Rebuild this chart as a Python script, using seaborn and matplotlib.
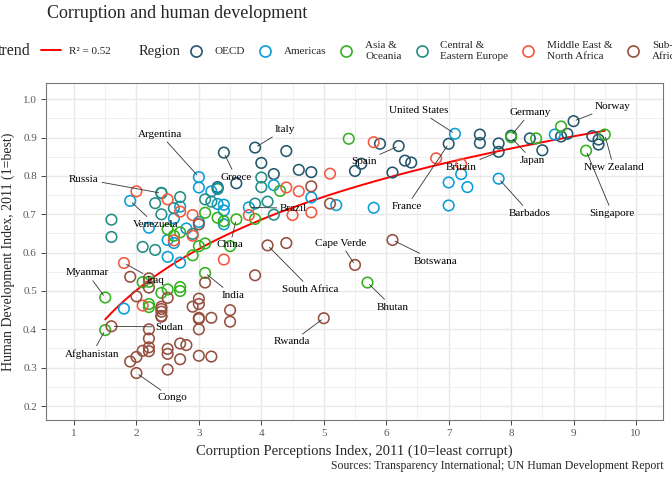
import numpy as np
import pandas as pd
import matplotlib
matplotlib.use('Agg')
import matplotlib.pyplot as plt
import seaborn as sns
from matplotlib.lines import Line2D
from matplotlib.ticker import MultipleLocator

# ==============================================================================
# DATA: CPI 2011 and HDI 2011 per country, grouped by region
# ==============================================================================
oecd_country = ['Austria', 'Belgium', 'Britain', 'Bulgaria', 'Cyprus', 'Czech Republic',
                'Denmark', 'Estonia', 'Finland', 'France', 'Germany', 'Greece', 'Hungary',
                'Iceland', 'Ireland', 'Italy', 'Latvia', 'Lithuania', 'Luxembourg', 'Malta',
                'Netherlands', 'Norway', 'Poland', 'Portugal', 'Romania', 'Slovakia',
                'Slovenia', 'Spain', 'Sweden', 'Switzerland']
oecd_cpi = [7.8, 7.5, 7.8, 3.3, 6.3, 4.4, 9.4, 6.4, 9.4, 7.0, 8.0, 3.4, 4.6, 8.3, 7.5,
            3.9, 4.2, 4.8, 8.5, 5.6, 8.9, 9.0, 5.5, 6.1, 3.6, 4.0, 5.9, 6.2, 9.3, 8.8]
oecd_hdi = [0.885, 0.886, 0.863, 0.771, 0.840, 0.865, 0.895, 0.835, 0.882, 0.884, 0.905,
            0.861, 0.816, 0.898, 0.908, 0.874, 0.805, 0.810, 0.867, 0.832, 0.910, 0.943,
            0.813, 0.809, 0.781, 0.834, 0.884, 0.878, 0.904, 0.903]

amer_country = ['Argentina', 'Bahamas', 'Barbados', 'Bolivia', 'Brazil', 'Canada', 'Chile',
                'Colombia', 'Costa Rica', 'Cuba', 'Dominica', 'Dominican Republic', 'Ecuador',
                'El Salvador', 'Guatemala', 'Guyana', 'Haiti', 'Honduras', 'Jamaica', 'Mexico',
                'Nicaragua', 'Panama', 'Paraguay', 'Peru', 'St Lucia', 'St Vincent',
                'Suriname', 'Trinidad and Tobago', 'United States', 'Uruguay', 'Venezuela']
amer_cpi = [3.0, 7.3, 7.8, 2.8, 3.8, 8.7, 7.2, 3.4, 4.8, 4.2, 5.2, 2.6, 2.7, 3.4, 2.7, 2.5,
            1.8, 2.6, 3.3, 3.0, 2.5, 3.3, 2.2, 3.4, 7.0, 5.8, 3.0, 3.2, 7.1, 7.0, 1.9]
amer_hdi = [0.797, 0.771, 0.793, 0.663, 0.718, 0.908, 0.805, 0.710, 0.744, 0.776, 0.724,
            0.689, 0.720, 0.674, 0.574, 0.633, 0.454, 0.625, 0.727, 0.770, 0.589, 0.768,
            0.665, 0.725, 0.723, 0.717, 0.680, 0.760, 0.910, 0.783, 0.735]

asia_country = ['Afghanistan', 'Australia', 'Bangladesh', 'Bhutan', 'Cambodia', 'China',
                'Hong Kong', 'India', 'Indonesia', 'Japan', 'Kiribati', 'South Korea', 'Laos',
                'Malaysia', 'Maldives', 'Mongolia', 'Myanmar', 'Nepal', 'New Zealand',
                'Pakistan', 'Papua New Guinea', 'Philippines', 'Samoa', 'Singapore',
                'Solomon Islands', 'Sri Lanka', 'Thailand', 'Timor-Leste', 'Tonga',
                'Vanuatu', 'Vietnam']
asia_cpi = [1.5, 8.8, 2.7, 5.7, 2.1, 3.6, 8.4, 3.1, 3.0, 8.0, 3.1, 5.4, 2.2, 4.3, 2.5, 2.7,
            1.5, 2.2, 9.5, 2.5, 2.2, 2.6, 3.9, 9.2, 2.7, 3.3, 3.4, 2.4, 3.1, 3.5, 2.9]
asia_hdi = [0.398, 0.929, 0.500, 0.522, 0.523, 0.687, 0.898, 0.547, 0.617, 0.901, 0.624,
            0.897, 0.524, 0.761, 0.661, 0.653, 0.483, 0.458, 0.908, 0.504, 0.466, 0.644,
            0.688, 0.866, 0.510, 0.691, 0.682, 0.495, 0.704, 0.617, 0.593]

ceur_country = ['Albania', 'Armenia', 'Azerbaijan', 'Belarus', 'Bosnia and Herzegovina',
                'Croatia', 'Georgia', 'Kazakhstan', 'Kyrgyzstan', 'Macedonia', 'Moldova',
                'Montenegro', 'Russia', 'Serbia', 'Tajikistan', 'Turkey', 'Turkmenistan',
                'Ukraine', 'Uzbekistan']
ceur_cpi = [3.1, 2.6, 2.4, 2.4, 3.2, 4.0, 4.1, 2.7, 2.1, 3.9, 2.9, 4.0, 2.4, 3.3, 2.3, 4.2,
            1.6, 2.3, 1.6]
ceur_hdi = [0.739, 0.716, 0.700, 0.756, 0.733, 0.796, 0.733, 0.745, 0.615, 0.728, 0.649,
            0.771, 0.755, 0.766, 0.607, 0.699, 0.686, 0.729, 0.641]

mena_country = ['Algeria', 'Bahrain', 'Egypt', 'Iran', 'Iraq', 'Israel', 'Jordan', 'Kuwait',
                'Lebanon', 'Libya', 'Morocco', 'Oman', 'Qatar', 'Saudi Arabia', 'Syria',
                'Tunisia', 'United Arab Emirates', 'Yemen']
mena_cpi = [2.9, 5.1, 2.9, 2.7, 1.8, 5.8, 4.5, 4.6, 2.5, 2.0, 3.4, 4.8, 7.2, 4.4, 2.6, 3.8,
            6.8, 2.1]
mena_hdi = [0.698, 0.806, 0.644, 0.707, 0.573, 0.888, 0.698, 0.760, 0.739, 0.760, 0.582,
            0.705, 0.831, 0.770, 0.632, 0.698, 0.846, 0.462]

ssa_country = ['Angola', 'Benin', 'Botswana', 'Burkina Faso', 'Burundi', 'Cameroon',
               'Cape Verde', 'Central African Republic', 'Chad', 'Comoros', 'Congo Republic',
               'Congo', "Cote d'Ivoire", 'Djibouti', 'Equatorial Guinea', 'Eritrea',
               'Ethiopia', 'Gabon', 'Gambia', 'Ghana', 'Guinea', 'Guinea-Bissau', 'Kenya',
               'Lesotho', 'Liberia', 'Madagascar', 'Malawi', 'Mali', 'Mauritania',
               'Mauritius', 'Mozambique', 'Namibia', 'Niger', 'Nigeria', 'Rwanda', 'Senegal',
               'Seychelles', 'Sierra Leone', 'South Africa', 'Sudan', 'Swaziland',
               'Tanzania', 'Togo', 'Uganda', 'Zambia', 'Zimbabwe']
ssa_cpi = [2.0, 3.0, 6.1, 3.0, 1.9, 2.5, 5.5, 2.2, 2.0, 2.4, 2.2, 2.0, 2.2, 3.0, 1.9, 2.5,
           2.7, 3.0, 3.5, 3.9, 2.1, 2.2, 2.2, 3.5, 3.2, 3.0, 3.0, 2.8, 2.4, 5.1, 2.7, 4.4,
           2.5, 2.4, 5.0, 2.9, 4.8, 2.5, 4.1, 1.6, 3.1, 3.0, 2.4, 2.4, 3.2, 2.2]
ssa_hdi = [0.486, 0.427, 0.633, 0.331, 0.316, 0.482, 0.568, 0.343, 0.328, 0.433, 0.533,
           0.286, 0.400, 0.430, 0.537, 0.349, 0.363, 0.674, 0.420, 0.541, 0.344, 0.353,
           0.509, 0.450, 0.329, 0.480, 0.400, 0.359, 0.453, 0.728, 0.322, 0.625, 0.295,
           0.459, 0.429, 0.459, 0.773, 0.336, 0.619, 0.408, 0.522, 0.466, 0.435, 0.446,
           0.430, 0.376]

regions = ['OECD', 'Americas', 'Asia &\nOceania', 'Central &\nEastern Europe',
           'Middle East &\nNorth Africa', 'Sub-Saharan\nAfrica']
region_colors = ['#24576D', '#099DD7', '#33B11E', '#248E84', '#F2583F', '#96503F']

labelled = ['Congo', 'Afghanistan', 'Sudan', 'Myanmar', 'Iraq', 'Venezuela', 'Russia',
            'Argentina', 'Brazil', 'Italy', 'South Africa', 'Cape Verde', 'Bhutan',
            'Botswana', 'Britain', 'New Zealand', 'Greece', 'China', 'India', 'Rwanda',
            'Spain', 'France', 'United States', 'Japan', 'Norway', 'Singapore',
            'Barbados', 'Germany']

# ==============================================================================
# TABLE
# ==============================================================================
parts = [
    (oecd_country, oecd_cpi, oecd_hdi, regions[0]),
    (amer_country, amer_cpi, amer_hdi, regions[1]),
    (asia_country, asia_cpi, asia_hdi, regions[2]),
    (ceur_country, ceur_cpi, ceur_hdi, regions[3]),
    (mena_country, mena_cpi, mena_hdi, regions[4]),
    (ssa_country, ssa_cpi, ssa_hdi, regions[5]),
]
df = pd.concat([pd.DataFrame({'Country': c, 'CPI': x, 'HDI': y, 'Region': r})
                for c, x, y, r in parts], ignore_index=True)

# trend: HDI ~ CPI + log(CPI)
X = np.column_stack([np.ones(len(df)), df['CPI'], np.log(df['CPI'])])
coef, *_ = np.linalg.lstsq(X, df['HDI'], rcond=None)
fitted = X @ coef
r2 = 1 - ((df['HDI'] - fitted) ** 2).sum() / ((df['HDI'] - df['HDI'].mean()) ** 2).sum()
xs = np.linspace(df['CPI'].min(), df['CPI'].max(), 200)
ys = coef[0] + coef[1] * xs + coef[2] * np.log(xs)

# ==============================================================================
# PLOT
# ==============================================================================
sns.set_style('white')
plt.rcParams['font.family'] = ['Liberation Serif', 'DejaVu Serif']

fig = plt.figure(figsize=(6.72, 4.8), dpi=100)
ax = fig.add_axes([46 / 672, 60 / 480, 617.3 / 672, 336.7 / 480])

sns.lineplot(x=xs, y=ys, color='red', linewidth=1.4, ax=ax, zorder=2)
sns.scatterplot(data=df, x='CPI', y='HDI', hue='Region', hue_order=regions,
                palette=region_colors, s=58, linewidth=1.15, legend=False, ax=ax, zorder=3)
# hollow circles
pts = ax.collections[-1]
pts.set_edgecolors(pts.get_facecolors())
pts.set_facecolors('none')

# labels (positions picked by hand, like ggrepel would)
label_pos = {
    'Argentina': (2.38, 0.909), 'Italy': (4.38, 0.922), 'Greece': (3.59, 0.797),
    'Russia': (1.16, 0.792), 'Venezuela': (2.30, 0.674), 'Brazil': (4.52, 0.716),
    'China': (3.50, 0.620), 'Myanmar': (1.21, 0.547), 'Iraq': (2.30, 0.528),
    'India': (3.54, 0.489), 'South Africa': (4.79, 0.505), 'Cape Verde': (5.27, 0.625),
    'Sudan': (2.52, 0.406), 'Afghanistan': (1.29, 0.336), 'Congo': (2.57, 0.221),
    'Rwanda': (4.49, 0.367), 'Botswana': (6.79, 0.578), 'Bhutan': (6.10, 0.458),
    'Spain': (5.64, 0.838), 'France': (6.33, 0.721), 'United States': (6.52, 0.971),
    'Britain': (7.20, 0.823), 'Germany': (8.31, 0.966), 'Japan': (8.34, 0.841),
    'Barbados': (8.30, 0.703), 'Norway': (9.62, 0.982), 'New Zealand': (9.64, 0.823),
    'Singapore': (9.62, 0.703),
}
sub = df[df['Country'].isin(labelled)]
for _, row in sub.iterrows():
    tx, ty = label_pos[row['Country']]
    ax.annotate(row['Country'], xy=(row['CPI'], row['HDI']), xytext=(tx, ty),
                ha='center', va='center', fontsize=8, color='black', zorder=4,
                arrowprops=dict(arrowstyle='-', color='#333333', lw=0.6,
                                shrinkA=0, shrinkB=2))

ax.set_xlim(0.552, 10.437)
ax.set_ylim(0.1635, 1.0417)
ax.xaxis.set_major_locator(MultipleLocator(1))
ax.xaxis.set_minor_locator(MultipleLocator(0.5))
ax.yaxis.set_major_locator(MultipleLocator(0.1))
ax.yaxis.set_minor_locator(MultipleLocator(0.05))
ax.grid(True, which='major', color='#e8e8e8', linewidth=1.0, zorder=0)
ax.grid(True, which='minor', color='#f0f0f0', linewidth=0.7, zorder=0)
ax.set_axisbelow(True)
for s in ax.spines.values():
    s.set_color('#777777')
    s.set_linewidth(0.8)
ax.tick_params(axis='both', which='major', direction='out', length=3.5, width=0.7,
               color='#444444', labelsize=8, labelcolor='#5a5a5a', pad=3,
               bottom=True, left=True)
ax.tick_params(axis='both', which='minor', length=0)
ax.set_yticks(np.arange(0.2, 1.01, 0.1))
ax.set_yticklabels([f'{v:.1f}' for v in np.arange(0.2, 1.01, 0.1)])

ax.set_xlabel('Corruption Perceptions Index, 2011 (10=least corrupt)', fontsize=10.5,
              labelpad=5)
ax.set_ylabel('Human Development Index, 2011 (1=best)', fontsize=10, labelpad=6)

fig.text(47 / 672, 1 - 13 / 480, 'Corruption and human development', fontsize=13,
         ha='left', va='center')
fig.text(664 / 672, 1 - 466 / 480,
         'Sources: Transparency International; UN Human Development Report',
         fontsize=8.5, ha='right', va='center')

# legend row on top
leg_y = 1 - 51 / 480
fig.text(-2 / 672, leg_y, 'trend', fontsize=11.5, ha='left', va='center')
trend_handle = Line2D([], [], color='red', linewidth=1.4)
leg1 = fig.legend([trend_handle], [f'R\u00b2 = {r2:.2f}'], loc='center left',
                  bbox_to_anchor=(41 / 672, leg_y), frameon=False, fontsize=8,
                  handlelength=1.8, handletextpad=0.7, borderpad=0, borderaxespad=0)
fig.text(139 / 672, leg_y, 'Region', fontsize=10.5, ha='left', va='center')
region_handles = [Line2D([], [], linestyle='none', marker='o', markersize=8,
                         markerfacecolor='none', markeredgecolor=c, markeredgewidth=1.2)
                  for c in region_colors]
leg2 = fig.legend(region_handles, regions, loc='center left', ncol=6,
                  bbox_to_anchor=(190 / 672, leg_y), frameon=False, fontsize=8,
                  handlelength=1.0, handletextpad=1.2, columnspacing=1.3,
                  borderpad=0, borderaxespad=0)

fig.savefig('out.png', dpi=100)
